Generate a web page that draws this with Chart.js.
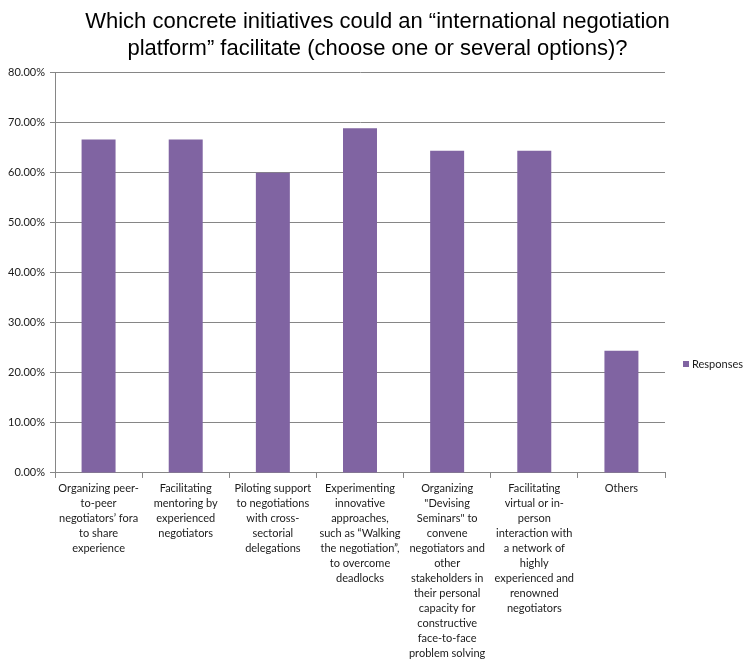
<!DOCTYPE html>
<html>
<head>
<meta charset="utf-8">
<script src="https://cdn.jsdelivr.net/npm/chart.js@4"></script>
<style>
  html, body { margin: 0; padding: 0; background: #fff; }
  #chart { display: block; }
</style>
</head>
<body>
<canvas id="chart" width="755" height="671"></canvas>
<script>
// Survey question and answer options (pre-wrapped as in the original)
const titleLines = [
  'Which concrete initiatives could an \u201cinternational negotiation',
  'platform\u201d facilitate (choose one or several options)?'
];

const categories = [
  ['Organizing peer-', 'to-peer', 'negotiators\u2019 fora', 'to share', 'experience'],
  ['Facilitating', 'mentoring by', 'experienced', 'negotiators'],
  ['Piloting support', 'to negotiations', 'with cross-', 'sectorial', 'delegations'],
  ['Experimenting', 'innovative', 'approaches,', 'such as \u201cWalking', 'the negotiation\u201d,', 'to overcome', 'deadlocks'],
  ['Organizing', '"Devising', 'Seminars" to', 'convene', 'negotiators and', 'other', 'stakeholders in', 'their personal', 'capacity for', 'constructive', 'face-to-face', 'problem solving'],
  ['Facilitating', 'virtual or in-', 'person', 'interaction with', 'a network of', 'highly', 'experienced and', 'renowned', 'negotiators'],
  ['Others']
];

const responses = [66.67, 66.67, 60.0, 68.89, 64.44, 64.44, 24.44];

const seriesName = 'Responses';
const barColor = '#8064A2';
const gridColor = '#868686';
const textColor = '#1a1a1a';

// Excel-style legend to the right of the plot
const sideLegend = {
  id: 'sideLegend',
  afterDraw(chart) {
    const ctx = chart.ctx;
    const ds = chart.data.datasets[0];
    const x = chart.chartArea.right + 18;
    const y = 364;
    ctx.save();
    ctx.fillStyle = ds.backgroundColor;
    ctx.fillRect(x, y - 3, 6, 6);
    ctx.fillStyle = textColor;
    ctx.font = '11px Lato';
    ctx.textBaseline = 'middle';
    ctx.fillText(ds.label, x + 9, y);
    ctx.restore();
  }
};

new Chart(document.getElementById('chart'), {
  type: 'bar',
  data: {
    labels: categories,
    datasets: [{
      label: seriesName,
      data: responses,
      backgroundColor: barColor,
      borderWidth: 0,
      barPercentage: 0.78,
      categoryPercentage: 0.5
    }]
  },
  options: {
    responsive: false,
    animation: false,
    layout: { padding: { bottom: 7 } },
    plugins: {
      legend: { display: false },
      tooltip: { enabled: false },
      title: {
        display: true,
        text: titleLines,
        color: '#000',
        font: { family: 'Liberation Sans', size: 22, weight: 'normal', lineHeight: 1.2 },
        padding: { top: 9, bottom: 11 }
      }
    },
    scales: {
      x: {
        grid: {
          display: true,
          offset: true,
          drawOnChartArea: false,
          drawTicks: true,
          tickLength: 5,
          color: gridColor
        },
        border: { display: true, color: gridColor },
        ticks: {
          autoSkip: false,
          maxRotation: 0,
          minRotation: 0,
          padding: 3,
          color: textColor,
          font: { family: 'Lato', size: 11, lineHeight: 1.364 }
        }
      },
      y: {
        min: 0,
        max: 80,
        grid: { color: gridColor, tickLength: 5 },
        border: { display: true, color: gridColor },
        ticks: {
          stepSize: 10,
          padding: 5,
          color: textColor,
          font: { family: 'Lato', size: 11 },
          callback: (value) => value.toFixed(2) + '%'
        },
        afterFit: (scale) => { scale.width = 55; }
      },
      yr: {
        position: 'right',
        display: true,
        grid: { display: false },
        border: { display: false },
        ticks: { display: false },
        afterFit: (scale) => { scale.width = 90; }
      }
    }
  },
  plugins: [sideLegend]
});
</script>
</body>
</html>
